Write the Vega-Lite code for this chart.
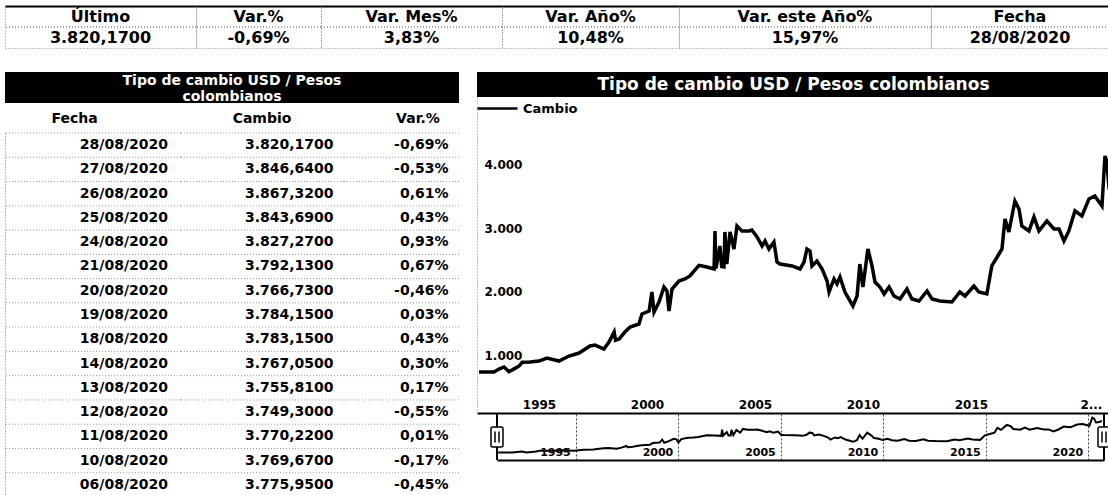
{
  "$schema": "https://vega.github.io/schema/vega-lite/v6.json",
  "padding": {"left": 4, "top": 5, "right": 0, "bottom": 0},
  "background": "white",
  "spacing": 23,
  "resolve": {"scale": {"color": "independent"}, "legend": {"color": "independent"}},
  "config": {
    "view": {"stroke": null},
    "font": "DejaVu Sans",
    "text": {"font": "DejaVu Sans", "fontWeight": "bold", "color": "black"},
    "axis": {"labelFont": "DejaVu Sans", "labelFontWeight": "bold", "labelColor": "black", "minExtent": 0},
    "legend": {"labelFont": "DejaVu Sans", "labelFontWeight": "bold", "labelColor": "black"}
  },
  "datasets": {
    "cambio": [
      {"fecha": "1991-03-17", "cambio": 740},
      {"fecha": "1991-11-24", "cambio": 742},
      {"fecha": "1992-02-17", "cambio": 787},
      {"fecha": "1992-05-11", "cambio": 820},
      {"fecha": "1992-08-04", "cambio": 745},
      {"fecha": "1992-10-30", "cambio": 790},
      {"fecha": "1993-01-23", "cambio": 835},
      {"fecha": "1993-03-15", "cambio": 893},
      {"fecha": "1993-07-27", "cambio": 897},
      {"fecha": "1993-12-24", "cambio": 913},
      {"fecha": "1994-05-08", "cambio": 960},
      {"fecha": "1994-11-28", "cambio": 913},
      {"fecha": "1995-05-15", "cambio": 992},
      {"fecha": "1995-11-03", "cambio": 1039},
      {"fecha": "1996-05-04", "cambio": 1150},
      {"fecha": "1996-07-31", "cambio": 1165},
      {"fecha": "1996-12-27", "cambio": 1102},
      {"fecha": "1997-03-22", "cambio": 1213},
      {"fecha": "1997-06-18", "cambio": 1370},
      {"fecha": "1997-07-10", "cambio": 1240},
      {"fecha": "1997-09-10", "cambio": 1260},
      {"fecha": "1997-12-16", "cambio": 1370},
      {"fecha": "1998-03-14", "cambio": 1449},
      {"fecha": "1998-08-11", "cambio": 1496},
      {"fecha": "1998-10-01", "cambio": 1654},
      {"fecha": "1999-01-30", "cambio": 1700},
      {"fecha": "1999-03-18", "cambio": 2000},
      {"fecha": "1999-04-23", "cambio": 1685},
      {"fecha": "1999-07-16", "cambio": 1843},
      {"fecha": "1999-10-08", "cambio": 2079},
      {"fecha": "1999-11-28", "cambio": 2016},
      {"fecha": "2000-01-01", "cambio": 1700},
      {"fecha": "2000-02-21", "cambio": 2047},
      {"fecha": "2000-06-17", "cambio": 2173},
      {"fecha": "2000-09-27", "cambio": 2205},
      {"fecha": "2000-12-20", "cambio": 2252},
      {"fecha": "2001-05-22", "cambio": 2420},
      {"fecha": "2001-10-05", "cambio": 2394},
      {"fecha": "2002-02-02", "cambio": 2362},
      {"fecha": "2002-02-17", "cambio": 2961},
      {"fecha": "2002-03-05", "cambio": 2370},
      {"fecha": "2002-05-11", "cambio": 2724},
      {"fecha": "2002-06-10", "cambio": 2400},
      {"fecha": "2002-07-19", "cambio": 2394},
      {"fecha": "2002-08-04", "cambio": 2945},
      {"fecha": "2002-09-05", "cambio": 2440},
      {"fecha": "2002-10-30", "cambio": 2945},
      {"fecha": "2003-01-04", "cambio": 2677},
      {"fecha": "2003-02-24", "cambio": 3039},
      {"fecha": "2003-05-19", "cambio": 2961},
      {"fecha": "2003-09-16", "cambio": 2961},
      {"fecha": "2003-11-03", "cambio": 2976},
      {"fecha": "2004-01-30", "cambio": 2866},
      {"fecha": "2004-04-23", "cambio": 2724},
      {"fecha": "2004-06-13", "cambio": 2803},
      {"fecha": "2004-08-18", "cambio": 2677},
      {"fecha": "2004-11-10", "cambio": 2787},
      {"fecha": "2005-01-01", "cambio": 2472},
      {"fecha": "2005-02-21", "cambio": 2440},
      {"fecha": "2005-09-13", "cambio": 2410},
      {"fecha": "2006-01-26", "cambio": 2362},
      {"fecha": "2006-04-02", "cambio": 2472},
      {"fecha": "2006-05-23", "cambio": 2677},
      {"fecha": "2006-07-13", "cambio": 2646},
      {"fecha": "2006-08-15", "cambio": 2410},
      {"fecha": "2006-11-07", "cambio": 2488},
      {"fecha": "2007-02-03", "cambio": 2362},
      {"fecha": "2007-04-28", "cambio": 2173},
      {"fecha": "2007-05-31", "cambio": 2000},
      {"fecha": "2007-08-23", "cambio": 2205},
      {"fecha": "2007-10-12", "cambio": 2126},
      {"fecha": "2007-12-02", "cambio": 2236},
      {"fecha": "2008-02-24", "cambio": 2000},
      {"fecha": "2008-07-08", "cambio": 1780},
      {"fecha": "2008-09-16", "cambio": 1937},
      {"fecha": "2008-11-02", "cambio": 2440},
      {"fecha": "2008-12-24", "cambio": 2079},
      {"fecha": "2009-03-18", "cambio": 2677},
      {"fecha": "2009-05-27", "cambio": 2410},
      {"fecha": "2009-07-16", "cambio": 2157},
      {"fecha": "2009-10-08", "cambio": 2079},
      {"fecha": "2009-12-17", "cambio": 1969},
      {"fecha": "2010-03-11", "cambio": 2079},
      {"fecha": "2010-06-03", "cambio": 1937},
      {"fecha": "2010-09-13", "cambio": 1890},
      {"fecha": "2011-01-08", "cambio": 2047},
      {"fecha": "2011-04-02", "cambio": 1890},
      {"fecha": "2011-07-31", "cambio": 1858},
      {"fecha": "2011-12-13", "cambio": 2016},
      {"fecha": "2012-03-07", "cambio": 1890},
      {"fecha": "2012-07-19", "cambio": 1858},
      {"fecha": "2013-02-06", "cambio": 1843},
      {"fecha": "2013-06-21", "cambio": 2000},
      {"fecha": "2013-09-16", "cambio": 1937},
      {"fecha": "2014-02-14", "cambio": 2094},
      {"fecha": "2014-05-08", "cambio": 2000},
      {"fecha": "2014-09-20", "cambio": 1969},
      {"fecha": "2014-12-13", "cambio": 2410},
      {"fecha": "2015-04-13", "cambio": 2598},
      {"fecha": "2015-06-03", "cambio": 2677},
      {"fecha": "2015-07-24", "cambio": 3150},
      {"fecha": "2015-09-27", "cambio": 2945},
      {"fecha": "2016-01-08", "cambio": 3433},
      {"fecha": "2016-03-17", "cambio": 3307},
      {"fecha": "2016-05-04", "cambio": 3039},
      {"fecha": "2016-09-02", "cambio": 2961},
      {"fecha": "2016-11-25", "cambio": 3181},
      {"fecha": "2017-02-17", "cambio": 2961},
      {"fecha": "2017-07-02", "cambio": 3118},
      {"fecha": "2017-10-30", "cambio": 2992},
      {"fecha": "2018-01-23", "cambio": 2992},
      {"fecha": "2018-04-16", "cambio": 2803},
      {"fecha": "2018-07-08", "cambio": 2961},
      {"fecha": "2018-10-19", "cambio": 3276},
      {"fecha": "2019-02-14", "cambio": 3197},
      {"fecha": "2019-06-13", "cambio": 3465},
      {"fecha": "2019-09-20", "cambio": 3512},
      {"fecha": "2020-01-19", "cambio": 3354},
      {"fecha": "2020-03-10", "cambio": 4142},
      {"fecha": "2020-04-12", "cambio": 4047},
      {"fecha": "2020-05-15", "cambio": 3669},
      {"fecha": "2020-06-13", "cambio": 3700},
      {"fecha": "2020-07-19", "cambio": 3750},
      {"fecha": "2020-08-28", "cambio": 3820}
    ],
    "tabla": [
      {"Fecha": "28/08/2020", "Cambio": "3.820,1700", "Var": "-0,69%"},
      {"Fecha": "27/08/2020", "Cambio": "3.846,6400", "Var": "-0,53%"},
      {"Fecha": "26/08/2020", "Cambio": "3.867,3200", "Var": "0,61%"},
      {"Fecha": "25/08/2020", "Cambio": "3.843,6900", "Var": "0,43%"},
      {"Fecha": "24/08/2020", "Cambio": "3.827,2700", "Var": "0,93%"},
      {"Fecha": "21/08/2020", "Cambio": "3.792,1300", "Var": "0,67%"},
      {"Fecha": "20/08/2020", "Cambio": "3.766,7300", "Var": "-0,46%"},
      {"Fecha": "19/08/2020", "Cambio": "3.784,1500", "Var": "0,03%"},
      {"Fecha": "18/08/2020", "Cambio": "3.783,1500", "Var": "0,43%"},
      {"Fecha": "14/08/2020", "Cambio": "3.767,0500", "Var": "0,30%"},
      {"Fecha": "13/08/2020", "Cambio": "3.755,8100", "Var": "0,17%"},
      {"Fecha": "12/08/2020", "Cambio": "3.749,3000", "Var": "-0,55%"},
      {"Fecha": "11/08/2020", "Cambio": "3.770,2200", "Var": "0,01%"},
      {"Fecha": "10/08/2020", "Cambio": "3.769,6700", "Var": "-0,17%"},
      {"Fecha": "06/08/2020", "Cambio": "3.775,9500", "Var": "-0,45%"}
    ],
    "navegador": [
      {"fecha": "1991-02-24"},
      {"fecha": "2020-10-05"}
    ]
  },
  "vconcat": [
    {
      "hconcat": [
        {
          "width": 191, "height": 42,
          "data": {"values": [{"titulo": "Último", "valor": "3.820,1700"}]},
          "transform": [{"fold": ["titulo", "valor"], "as": ["fila", "texto"]}],
          "view": {"stroke": "#888", "strokeDash": [1, 2]},
          "layer": [
            {"mark": {"type": "rule", "color": "#888", "strokeDash": [1, 2]},
             "encoding": {"y": {"datum": "valor", "type": "nominal", "bandPosition": 0, "scale": {"domain": ["titulo", "valor"], "paddingInner": 0, "paddingOuter": 0}, "axis": null}}},
            {"mark": {"type": "text", "fontSize": 16},
             "encoding": {
               "y": {"field": "fila", "type": "nominal", "scale": {"domain": ["titulo", "valor"], "paddingInner": 0, "paddingOuter": 0}, "axis": null},
               "x": {"datum": "c", "type": "nominal", "axis": {"orient": "top", "labels": false, "ticks": false, "title": null, "domainColor": "black", "domainWidth": 2}},
               "text": {"field": "texto"}}}
          ]
        },
        {
          "width": 125, "height": 42,
          "data": {"values": [{"titulo": "Var.%", "valor": "-0,69%"}]},
          "transform": [{"fold": ["titulo", "valor"], "as": ["fila", "texto"]}],
          "view": {"stroke": "#888", "strokeDash": [1, 2]},
          "layer": [
            {"mark": {"type": "rule", "color": "#888", "strokeDash": [1, 2]},
             "encoding": {"y": {"datum": "valor", "type": "nominal", "bandPosition": 0, "scale": {"domain": ["titulo", "valor"], "paddingInner": 0, "paddingOuter": 0}, "axis": null}}},
            {"mark": {"type": "text", "fontSize": 16},
             "encoding": {
               "y": {"field": "fila", "type": "nominal", "scale": {"domain": ["titulo", "valor"], "paddingInner": 0, "paddingOuter": 0}, "axis": null},
               "x": {"datum": "c", "type": "nominal", "axis": {"orient": "top", "labels": false, "ticks": false, "title": null, "domainColor": "black", "domainWidth": 2}},
               "text": {"field": "texto"}}}
          ]
        },
        {
          "width": 181, "height": 42,
          "data": {"values": [{"titulo": "Var. Mes%", "valor": "3,83%"}]},
          "transform": [{"fold": ["titulo", "valor"], "as": ["fila", "texto"]}],
          "view": {"stroke": "#888", "strokeDash": [1, 2]},
          "layer": [
            {"mark": {"type": "rule", "color": "#888", "strokeDash": [1, 2]},
             "encoding": {"y": {"datum": "valor", "type": "nominal", "bandPosition": 0, "scale": {"domain": ["titulo", "valor"], "paddingInner": 0, "paddingOuter": 0}, "axis": null}}},
            {"mark": {"type": "text", "fontSize": 16},
             "encoding": {
               "y": {"field": "fila", "type": "nominal", "scale": {"domain": ["titulo", "valor"], "paddingInner": 0, "paddingOuter": 0}, "axis": null},
               "x": {"datum": "c", "type": "nominal", "axis": {"orient": "top", "labels": false, "ticks": false, "title": null, "domainColor": "black", "domainWidth": 2}},
               "text": {"field": "texto"}}}
          ]
        },
        {
          "width": 177, "height": 42,
          "data": {"values": [{"titulo": "Var. Año%", "valor": "10,48%"}]},
          "transform": [{"fold": ["titulo", "valor"], "as": ["fila", "texto"]}],
          "view": {"stroke": "#888", "strokeDash": [1, 2]},
          "layer": [
            {"mark": {"type": "rule", "color": "#888", "strokeDash": [1, 2]},
             "encoding": {"y": {"datum": "valor", "type": "nominal", "bandPosition": 0, "scale": {"domain": ["titulo", "valor"], "paddingInner": 0, "paddingOuter": 0}, "axis": null}}},
            {"mark": {"type": "text", "fontSize": 16},
             "encoding": {
               "y": {"field": "fila", "type": "nominal", "scale": {"domain": ["titulo", "valor"], "paddingInner": 0, "paddingOuter": 0}, "axis": null},
               "x": {"datum": "c", "type": "nominal", "axis": {"orient": "top", "labels": false, "ticks": false, "title": null, "domainColor": "black", "domainWidth": 2}},
               "text": {"field": "texto"}}}
          ]
        },
        {
          "width": 252, "height": 42,
          "data": {"values": [{"titulo": "Var. este Año%", "valor": "15,97%"}]},
          "transform": [{"fold": ["titulo", "valor"], "as": ["fila", "texto"]}],
          "view": {"stroke": "#888", "strokeDash": [1, 2]},
          "layer": [
            {"mark": {"type": "rule", "color": "#888", "strokeDash": [1, 2]},
             "encoding": {"y": {"datum": "valor", "type": "nominal", "bandPosition": 0, "scale": {"domain": ["titulo", "valor"], "paddingInner": 0, "paddingOuter": 0}, "axis": null}}},
            {"mark": {"type": "text", "fontSize": 16},
             "encoding": {
               "y": {"field": "fila", "type": "nominal", "scale": {"domain": ["titulo", "valor"], "paddingInner": 0, "paddingOuter": 0}, "axis": null},
               "x": {"datum": "c", "type": "nominal", "axis": {"orient": "top", "labels": false, "ticks": false, "title": null, "domainColor": "black", "domainWidth": 2}},
               "text": {"field": "texto"}}}
          ]
        },
        {
          "width": 178, "height": 42,
          "data": {"values": [{"titulo": "Fecha", "valor": "28/08/2020"}]},
          "transform": [{"fold": ["titulo", "valor"], "as": ["fila", "texto"]}],
          "view": {"stroke": "#888", "strokeDash": [1, 2]},
          "layer": [
            {"mark": {"type": "rule", "color": "#888", "strokeDash": [1, 2]},
             "encoding": {"y": {"datum": "valor", "type": "nominal", "bandPosition": 0, "scale": {"domain": ["titulo", "valor"], "paddingInner": 0, "paddingOuter": 0}, "axis": null}}},
            {"mark": {"type": "text", "fontSize": 16},
             "encoding": {
               "y": {"field": "fila", "type": "nominal", "scale": {"domain": ["titulo", "valor"], "paddingInner": 0, "paddingOuter": 0}, "axis": null},
               "x": {"datum": "c", "type": "nominal", "axis": {"orient": "top", "labels": false, "ticks": false, "title": null, "domainColor": "black", "domainWidth": 2}},
               "text": {"field": "texto"}}}
          ]
        }
      ],
      "spacing": 0,
      "bounds": "flush"
    },
    {
      "hconcat": [
        {
          "vconcat": [
            {
              "width": 454, "height": 31,
              "data": {"values": [{"titulo": "Tipo de cambio USD / Pesos colombianos"}]},
              "view": {"fill": "black", "stroke": null},
              "mark": {"type": "text", "color": "white", "fontSize": 14, "lineHeight": 16.5, "dy": -7, "text": ["Tipo de cambio USD / Pesos", "colombianos"]},
              "encoding": {
                "x": {"datum": "t", "type": "nominal", "axis": null},
                "y": {"datum": "t", "type": "nominal", "axis": null}
              }
            },
            {
              "hconcat": [
                {
                  "width": 176, "height": 364,
                  "data": {"name": "tabla"},
                  "layer": [
                    {"mark": {"type": "rule", "color": "#999", "strokeDash": [1, 2]},
                     "encoding": {"y": {"field": "Fecha", "type": "ordinal", "sort": null, "bandPosition": 0, "scale": {"paddingInner": 0, "paddingOuter": 0}, "axis": {"orient": "left", "domain": true, "domainColor": "#777", "domainDash": [1, 2], "labels": false, "ticks": false, "title": null, "grid": false, "minExtent": 0}}}},
                    {"mark": {"type": "text", "align": "right", "fontSize": 14, "dx": 75},
                     "encoding": {
                       "y": {"field": "Fecha", "type": "ordinal", "sort": null, "scale": {"paddingInner": 0, "paddingOuter": 0}, "axis": {"orient": "left", "domain": true, "domainColor": "#777", "domainDash": [1, 2], "labels": false, "ticks": false, "title": null, "grid": false, "minExtent": 0}},
                       "x": {"datum": "Fecha", "type": "nominal", "scale": {"paddingInner": 0, "paddingOuter": 0}, "axis": {"orient": "top", "title": null, "domain": false, "ticks": false, "labelPadding": 8, "labelFontSize": 14, "labelOffset": -19, "labelAngle": 0}},
                       "text": {"field": "Fecha"}}}
                  ]
                },
                {
                  "width": 163, "height": 364,
                  "data": {"name": "tabla"},
                  "layer": [
                    {"mark": {"type": "rule", "color": "#999", "strokeDash": [1, 2]},
                     "encoding": {"y": {"field": "Fecha", "type": "ordinal", "sort": null, "bandPosition": 0, "scale": {"paddingInner": 0, "paddingOuter": 0}, "axis": null}}},
                    {"mark": {"type": "text", "align": "right", "fontSize": 14, "dx": 71},
                     "encoding": {
                       "y": {"field": "Fecha", "type": "ordinal", "sort": null, "scale": {"paddingInner": 0, "paddingOuter": 0}, "axis": null},
                       "x": {"datum": "Cambio", "type": "nominal", "scale": {"paddingInner": 0, "paddingOuter": 0}, "axis": {"orient": "top", "title": null, "domain": false, "ticks": false, "labelPadding": 8, "labelFontSize": 14, "labelOffset": -1, "labelAngle": 0}},
                       "text": {"field": "Cambio"}}}
                  ]
                },
                {
                  "width": 115, "height": 364,
                  "data": {"name": "tabla"},
                  "layer": [
                    {"mark": {"type": "rule", "color": "#999", "strokeDash": [1, 2]},
                     "encoding": {"y": {"field": "Fecha", "type": "ordinal", "sort": null, "bandPosition": 0, "scale": {"paddingInner": 0, "paddingOuter": 0}, "axis": null}}},
                    {"mark": {"type": "text", "align": "right", "fontSize": 14, "dx": 47},
                     "encoding": {
                       "y": {"field": "Fecha", "type": "ordinal", "sort": null, "scale": {"paddingInner": 0, "paddingOuter": 0}, "axis": null},
                       "x": {"datum": "Var.%", "type": "nominal", "scale": {"paddingInner": 0, "paddingOuter": 0}, "axis": {"orient": "top", "title": null, "domain": false, "ticks": false, "labelPadding": 8, "labelFontSize": 14, "labelOffset": 16, "labelAngle": 0}},
                       "text": {"field": "Var"}}}
                  ]
                }
              ],
              "spacing": 0,
              "bounds": "flush"
            }
          ],
          "spacing": 7
        },
        {
          "vconcat": [
            {
              "width": 633, "height": 25,
              "data": {"values": [{"titulo": "Tipo de cambio USD / Pesos colombianos"}]},
              "view": {"fill": "black", "stroke": null},
              "mark": {"type": "text", "color": "white", "fontSize": 17},
              "encoding": {
                "x": {"datum": "t", "type": "nominal", "axis": null},
                "y": {"datum": "t", "type": "nominal", "axis": null},
                "text": {"field": "titulo"}
              }
            },
            {
              "width": 633, "height": 316,
              "data": {"name": "cambio"},
              "mark": {"type": "line", "color": "black", "strokeWidth": 3.5, "clip": true},
              "encoding": {
                "x": {"field": "fecha", "type": "temporal",
                      "scale": {"domain": [{"year": 1991, "month": 2, "date": 10}, {"year": 2020, "month": 6, "date": 3}]},
                      "axis": {"values": [{"year": 1995}, {"year": 2000}, {"year": 2005}, {"year": 2010}, {"year": 2015}, {"year": 2020}],
                               "labelExpr": "year(datum.value) == 2020 ? '2...' : timeFormat(datum.value, '%Y')",
                               "labelOffset": {"condition": {"test": "year(datum.value) == 2020", "value": -10}, "value": -22},
                               "labelBaseline": "bottom", "labelPadding": -2, "ticks": false, "tickSize": 0, "grid": false,
                               "domainColor": "black", "domainWidth": 2, "title": null, "labelFontSize": 12, "labelFlush": false, "labelOverlap": false}},
                "y": {"field": "cambio", "type": "quantitative",
                      "scale": {"domain": [95, 5070], "nice": false, "zero": false},
                      "axis": {"values": [1000, 2000, 3000, 4000],
                               "labelExpr": "replace(format(datum.value, ','), ',', '.')",
                               "labelAlign": "left", "labelPadding": -7, "ticks": false, "tickSize": 0, "minExtent": 0,
                               "domain": true, "domainColor": "#888", "domainDash": [1, 2], "grid": false, "title": null, "labelFontSize": 12}},
                "color": {"datum": "Cambio", "type": "nominal", "scale": {"range": ["black"]},
                          "legend": {"orient": "top-left", "title": null, "offset": 0, "padding": 0, "symbolType": "M-2,0H2", "symbolSize": 400, "symbolOffset": 9, "symbolStrokeWidth": 2.5, "symbolStrokeColor": "black", "labelFontSize": 13, "labelOffset": 14}}
              }
            },
            {
              "width": 633, "height": 46,
              "layer": [
                {
                  "data": {"name": "cambio"},
                  "mark": {"type": "line", "color": "black", "strokeWidth": 2},
                  "encoding": {
                    "x": {"field": "fecha", "type": "temporal",
                          "scale": {"domain": [{"year": 1991, "month": 2, "date": 24}, {"year": 2020, "month": 10, "date": 5}], "range": [20, 627]},
                          "axis": {"values": [{"year": 1995}, {"year": 2000}, {"year": 2005}, {"year": 2010}, {"year": 2015}, {"year": 2020}],
                                   "format": "%Y", "labelOffset": -21, "labelBaseline": "bottom", "labelPadding": -3,
                                   "ticks": false, "tickSize": 0, "grid": true, "gridDash": [2, 2], "gridColor": "#444",
                                   "domainColor": "black", "domainWidth": 2, "title": null, "labelFontSize": 11, "labelFlush": false, "labelOverlap": false}},
                    "y": {"field": "cambio", "type": "quantitative", "scale": {"domain": [0, 4500], "nice": false, "zero": false}, "axis": null}
                  }
                },
                {
                  "data": {"name": "navegador"},
                  "mark": {"type": "rule", "color": "black", "strokeWidth": 2},
                  "encoding": {"x": {"field": "fecha", "type": "temporal"}}
                },
                {
                  "data": {"name": "navegador"},
                  "mark": {"type": "point", "filled": false, "fill": "white", "fillOpacity": 1, "stroke": "black", "strokeWidth": 1.5, "opacity": 1, "size": 400,
                           "shape": "M-0.45,-1 H0.45 Q0.6,-1 0.6,-0.85 V0.85 Q0.6,1 0.45,1 H-0.45 Q-0.6,1 -0.6,0.85 V-0.85 Q-0.6,-1 -0.45,-1 Z M-0.2,-0.55 V0.55 M0.2,-0.55 V0.55"},
                  "encoding": {"x": {"field": "fecha", "type": "temporal"}}
                }
              ]
            }
          ],
          "spacing": 0,
          "resolve": {"scale": {"color": "independent"}, "legend": {"color": "independent"}}
        }
      ],
      "spacing": 17,
      "resolve": {"scale": {"color": "independent"}, "legend": {"color": "independent"}}
    }
  ]
}
